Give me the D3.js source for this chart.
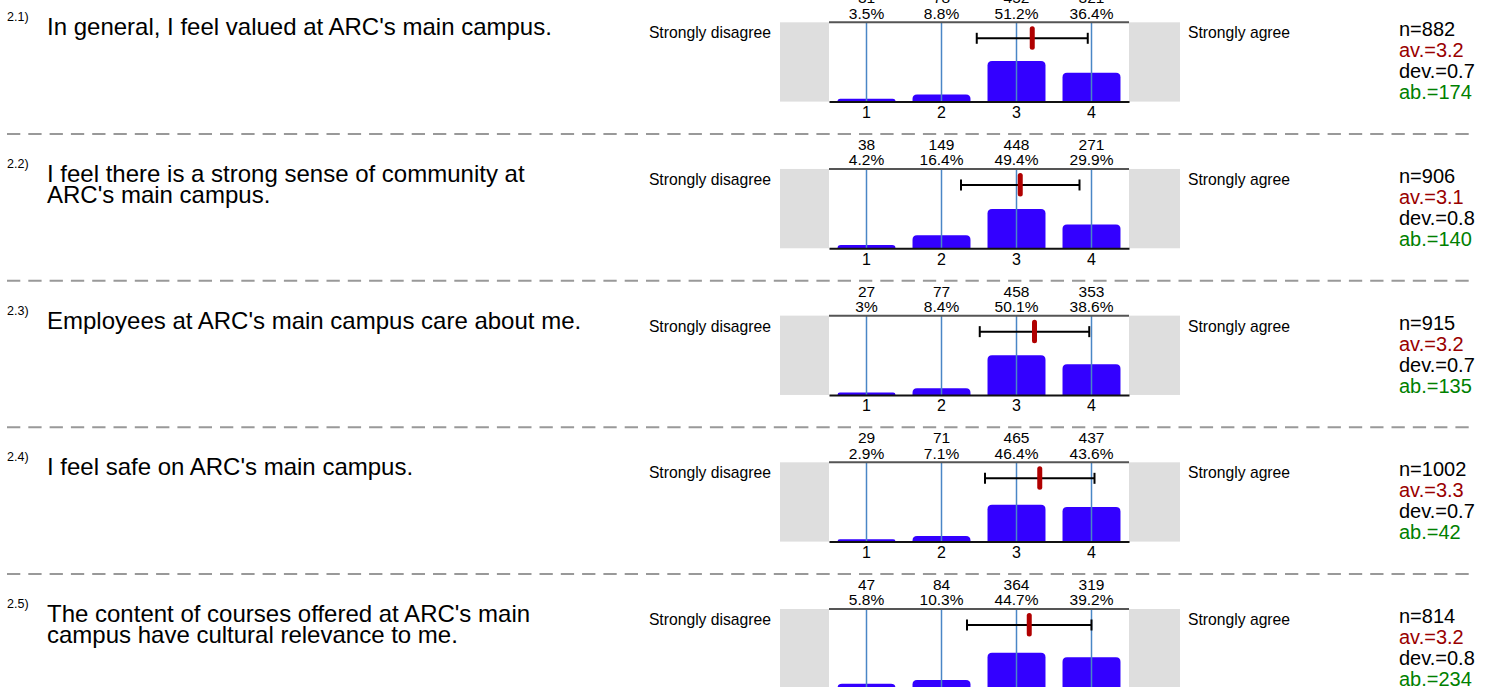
<!DOCTYPE html>
<html><head><meta charset="utf-8">
<script src="https://cdn.jsdelivr.net/npm/d3@7"></script>
<style>html,body{margin:0;padding:0;background:#fff;}svg{display:block;}</style>
</head><body>
<script>
const questionIds = ["2.1)", "2.2)", "2.3)", "2.4)", "2.5)"];
const questionLines = [
  ["In general, I feel valued at ARC's main campus."],
  ["I feel there is a strong sense of community at", "ARC's main campus."],
  ["Employees at ARC's main campus care about me."],
  ["I feel safe on ARC's main campus."],
  ["The content of courses offered at ARC's main", "campus have cultural relevance to me."]
];
const scaleLabels = ["1", "2", "3", "4"];
const leftPole = "Strongly disagree";
const rightPole = "Strongly agree";
const counts = [
  [31, 78, 452, 321],
  [38, 149, 448, 271],
  [27, 77, 458, 353],
  [29, 71, 465, 437],
  [47, 84, 364, 319]
];
const percents = [
  [3.5, 8.8, 51.2, 36.4],
  [4.2, 16.4, 49.4, 29.9],
  [3, 8.4, 50.1, 38.6],
  [2.9, 7.1, 46.4, 43.6],
  [5.8, 10.3, 44.7, 39.2]
];
const meanValues = [3.21, 3.05, 3.24, 3.31, 3.17];
const sdValues = [0.74, 0.79, 0.73, 0.73, 0.83];
const nValues = [882, 906, 915, 1002, 814];
const avValues = ["3.2", "3.1", "3.2", "3.3", "3.2"];
const devValues = ["0.7", "0.8", "0.7", "0.7", "0.8"];
const abValues = [174, 140, 135, 42, 234];

const W = 1497, H = 687;
const FONT = "'Liberation Sans', Arial, Helvetica, sans-serif";
const svg = d3.select("body").append("svg").attr("width", W).attr("height", H)
  .style("font-family", FONT);

const panelStep = 146.67, firstTop = 22.3, plotH = 79.3;
const plotX0 = 829, plotX1 = 1129;

const xBand = d3.scaleBand().domain(scaleLabels).range([plotX0, plotX1])
  .paddingInner(0.227).paddingOuter(0.1135);
const xLin = d3.scaleLinear().domain([1, 4])
  .range([xBand("1") + xBand.bandwidth() / 2, xBand("4") + xBand.bandwidth() / 2]);

function topPath(x, y, w, h, r) {
  r = Math.min(r, h, w / 2);
  return `M${x},${y + h}V${y + r}Q${x},${y} ${x + r},${y}H${x + w - r}Q${x + w},${y} ${x + w},${y + r}V${y + h}Z`;
}

questionIds.forEach((qid, i) => {
  const yT = firstTop + i * panelStep;
  const yB = yT + plotH;
  const y = d3.scaleLinear().domain([0, 100]).range([yB, yT]);
  const g = svg.append("g");

  // question number and text
  g.append("text").attr("x", 7).attr("y", yT - 1).attr("font-size", 12.5).attr("fill", "#000").text(qid);
  const qt = g.append("text").attr("x", 47).attr("y", yT + 13).attr("font-size", 24).attr("fill", "#000");
  questionLines[i].forEach((line, k) => {
    qt.append("tspan").attr("x", 47).attr("dy", k === 0 ? 0 : 21).text(line);
  });

  // pole labels
  g.append("text").attr("x", 771).attr("y", yT + 16).attr("text-anchor", "end")
    .attr("font-size", 15.7).text(leftPole);
  g.append("text").attr("x", 1188).attr("y", yT + 16).attr("font-size", 15.7).text(rightPole);

  // grey boxes
  g.append("rect").attr("x", 780).attr("y", yT).attr("width", plotX0 - 780).attr("height", plotH).attr("fill", "#dedede");
  g.append("rect").attr("x", plotX1).attr("y", yT).attr("width", 1180 - plotX1).attr("height", plotH).attr("fill", "#dedede");

  // bars
  g.selectAll("path.bar").data(scaleLabels).enter().append("path").attr("class", "bar")
    .attr("d", (d, j) => topPath(xBand(d), y(percents[i][j]), xBand.bandwidth(), yB - y(percents[i][j]), 4.5))
    .attr("fill", "#3300ff");

  // vertical blue lines
  g.selectAll("line.vl").data(scaleLabels).enter().append("line").attr("class", "vl")
    .attr("x1", d => xBand(d) + xBand.bandwidth() / 2).attr("x2", d => xBand(d) + xBand.bandwidth() / 2)
    .attr("y1", yT).attr("y2", yB).attr("stroke", "#4a86c6").attr("stroke-width", 1.5);

  // top & bottom axis lines
  g.append("line").attr("x1", plotX0).attr("x2", plotX1).attr("y1", yT).attr("y2", yT)
    .attr("stroke", "#555").attr("stroke-width", 2);
  const xAxis = d3.axisBottom(xBand).tickSize(0).tickPadding(5);
  const ax = g.append("g").attr("transform", `translate(0,${yB})`).call(xAxis);
  ax.select(".domain").attr("stroke", "#111").attr("stroke-width", 2);
  ax.selectAll("text").attr("font-size", 16).attr("font-family", FONT).attr("fill", "#000");

  // counts & percents
  g.selectAll("text.cnt").data(scaleLabels).enter().append("text").attr("class", "cnt")
    .attr("x", d => xBand(d) + xBand.bandwidth() / 2).attr("y", yT - 19)
    .attr("text-anchor", "middle").attr("font-size", 15.5).text((d, j) => counts[i][j]);
  g.selectAll("text.pct").data(scaleLabels).enter().append("text").attr("class", "pct")
    .attr("x", d => xBand(d) + xBand.bandwidth() / 2).attr("y", yT - 3.5)
    .attr("text-anchor", "middle").attr("font-size", 15.5).text((d, j) => percents[i][j] + "%");

  // error bar
  const m = meanValues[i], s = sdValues[i];
  const ey = yT + 16;
  g.append("line").attr("x1", xLin(m - s)).attr("x2", xLin(m + s)).attr("y1", ey).attr("y2", ey)
    .attr("stroke", "#000").attr("stroke-width", 2);
  [m - s, m + s].forEach(v => {
    g.append("line").attr("x1", xLin(v)).attr("x2", xLin(v)).attr("y1", ey - 5.5).attr("y2", ey + 5.5)
      .attr("stroke", "#000").attr("stroke-width", 2);
  });
  g.append("line").attr("x1", xLin(m)).attr("x2", xLin(m)).attr("y1", yT + 6.5).attr("y2", yT + 25)
    .attr("stroke", "#b00000").attr("stroke-width", 5).attr("stroke-linecap", "round");

  // stats
  const stats = [
    ["n=" + nValues[i], "#000"],
    ["av.=" + avValues[i], "#990000"],
    ["dev.=" + devValues[i], "#000"],
    ["ab.=" + abValues[i], "#008000"]
  ];
  stats.forEach((st, k) => {
    g.append("text").attr("x", 1399).attr("y", yT + 14 + k * 21).attr("font-size", 20)
      .attr("fill", st[1]).text(st[0]);
  });

  // separator
  if (i < questionIds.length - 1) {
    g.append("line").attr("x1", 7).attr("x2", 1471).attr("y1", yT + 111.7).attr("y2", yT + 111.7)
      .attr("stroke", "#999").attr("stroke-width", 2).attr("stroke-dasharray", "13.3 8");
  }
});
</script>
</body></html>
